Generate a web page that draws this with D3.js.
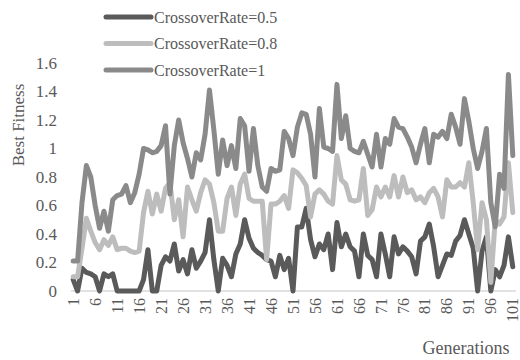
<!DOCTYPE html>
<html>
<head>
<meta charset="utf-8">
<script src="https://cdn.jsdelivr.net/npm/d3@7"></script>
<style>
  body { margin: 0; background: #fff; }
  svg text { font-family: "Liberation Serif", "Times New Roman", serif; fill: #595959; }
</style>
</head>
<body>
<svg id="chart" width="520" height="360"></svg>
<script>
// generations 1..101
const generations = d3.range(1, 102);
const seriesNames = ["CrossoverRate=0.5", "CrossoverRate=0.8", "CrossoverRate=1"];
const seriesColors = ["#5a5a5a", "#bdbdbd", "#8a8a8a"];
const yTicks = [0, 0.2, 0.4, 0.6, 0.8, 1, 1.2, 1.4, 1.6];
const xTickLabels = d3.range(1, 102, 5);

const rate05 = [
  0.08, 0.0, 0.16, 0.13, 0.12, 0.10, 0.0, 0.12, 0.10, 0.12,
  0.0, 0.0, 0.0, 0.0, 0.0, 0.0, 0.08, 0.29, 0.0, 0.0,
  0.18, 0.24, 0.21, 0.33, 0.14, 0.22, 0.12, 0.29, 0.16, 0.21,
  0.27, 0.50, 0.22, 0.0, 0.23, 0.18, 0.10, 0.26, 0.33, 0.50,
  0.37, 0.30, 0.27, 0.25, 0.22, 0.21, 0.10, 0.25, 0.15, 0.23,
  0.0, 0.45, 0.45, 0.58, 0.36, 0.24, 0.33, 0.29, 0.40, 0.15,
  0.48, 0.31, 0.40, 0.31, 0.28, 0.10, 0.40, 0.25, 0.22, 0.10,
  0.40, 0.26, 0.10, 0.38, 0.26, 0.31, 0.28, 0.24, 0.12, 0.35,
  0.38, 0.47, 0.31, 0.10, 0.18, 0.26, 0.25, 0.35, 0.39, 0.50,
  0.40, 0.30, 0.0, 0.28, 0.38, 0.0, 0.15, 0.10, 0.18, 0.38,
  0.17
];
const rate08 = [
  0.10, 0.10, 0.30, 0.51, 0.42, 0.34, 0.29, 0.36, 0.32, 0.38,
  0.29, 0.30, 0.30, 0.28, 0.27, 0.28, 0.55, 0.70, 0.54, 0.68,
  0.56, 0.72, 0.76, 0.50, 0.64, 0.38, 0.73, 0.64, 0.56, 0.69,
  0.78, 0.75, 0.62, 0.42, 0.42, 0.65, 0.73, 0.53, 0.75, 0.82,
  0.65, 0.63, 0.63, 0.63, 0.22, 0.61, 0.61, 0.63, 0.67, 0.58,
  0.85, 0.83, 0.79, 0.74, 0.52, 0.68, 0.71, 0.68, 0.63, 0.61,
  0.95, 0.78, 0.75, 0.64, 0.63, 0.64, 0.86, 0.53, 0.57, 0.73,
  0.66, 0.73, 0.66, 0.81, 0.66, 0.80, 0.69, 0.71, 0.64, 0.66,
  0.62, 0.69, 0.72, 0.66, 0.52, 0.78, 0.73, 0.73, 0.76, 0.73,
  0.90, 0.62, 0.29, 0.62, 0.50, 0.06, 0.50, 0.47, 0.52, 0.90,
  0.55
];
const rate10 = [
  0.21, 0.21, 0.62, 0.88, 0.80, 0.60, 0.44, 0.56, 0.42, 0.64,
  0.67, 0.68, 0.74, 0.62, 0.69, 0.82, 1.00, 0.99, 0.97, 0.98,
  1.02, 1.16, 0.68, 1.02, 1.20, 1.04, 0.93, 0.80, 0.97, 0.92,
  1.10, 1.41, 1.13, 0.82, 1.06, 0.88, 1.02, 0.86, 1.21, 1.16,
  0.84, 1.14, 0.88, 0.73, 0.70, 0.86, 0.84, 0.85, 1.12, 1.07,
  0.95, 1.15, 1.25, 1.24, 1.10, 0.80, 1.28, 1.01, 1.00, 0.98,
  1.45, 1.07, 1.23, 1.00, 0.98, 0.97, 1.05, 0.96, 0.87, 1.10,
  0.87, 1.07, 1.03, 1.21, 1.15, 1.14, 1.08, 1.01, 0.90, 1.03,
  1.14, 0.90, 1.10, 1.08, 1.12, 1.07, 1.24, 1.15, 1.03, 1.35,
  1.19, 1.00, 0.86, 0.98, 1.14, 0.62, 0.45, 0.82, 0.72, 1.52,
  0.95
];
const allSeries = [rate05, rate08, rate10];

const svg = d3.select("#chart");

const x = d3.scalePoint()
  .domain(generations)
  .range([71, 515])
  .padding(0.5);

const y = d3.scaleLinear()
  .domain([0, 1.6])
  .range([291, 63]);

// baseline at zero
svg.append("line")
  .attr("x1", 71).attr("x2", 516)
  .attr("y1", y(0)).attr("y2", y(0))
  .attr("stroke", "#d9d9d9")
  .attr("stroke-width", 1.5);

// y tick labels
svg.append("g").selectAll("text")
  .data(yTicks)
  .enter().append("text")
  .attr("x", 57)
  .attr("y", d => y(d))
  .attr("dy", "0.35em")
  .attr("text-anchor", "end")
  .attr("font-size", 17)
  .text(d => d);

// x tick labels, rotated
svg.append("g").selectAll("text")
  .data(xTickLabels)
  .enter().append("text")
  .attr("transform", d => `translate(${x(d)}, 298) rotate(-90)`)
  .attr("dy", "0.35em")
  .attr("text-anchor", "end")
  .attr("font-size", 16)
  .text(d => d);

// axis titles
svg.append("text")
  .attr("transform", "translate(18, 125) rotate(-90)")
  .attr("dy", "0.35em")
  .attr("text-anchor", "middle")
  .attr("font-size", 17)
  .text("Best Fitness");

svg.append("text")
  .attr("x", 466)
  .attr("y", 348)
  .attr("dy", "0.35em")
  .attr("text-anchor", "middle")
  .attr("font-size", 18)
  .text("Generations");

// lines
const line = d3.line()
  .x((d, i) => x(generations[i]))
  .y(d => y(d));

svg.append("g").selectAll("path")
  .data(allSeries)
  .enter().append("path")
  .attr("d", line)
  .attr("fill", "none")
  .attr("stroke", (d, i) => seriesColors[i])
  .attr("stroke-width", 5)
  .attr("stroke-linejoin", "round")
  .attr("stroke-linecap", "round");

// legend
const legend = svg.append("g").selectAll("g")
  .data(seriesNames)
  .enter().append("g")
  .attr("transform", (d, i) => `translate(0, ${17 + i * 26.5})`);

legend.append("line")
  .attr("x1", 106).attr("x2", 151)
  .attr("stroke", (d, i) => seriesColors[i])
  .attr("stroke-width", 5)
  .attr("stroke-linecap", "round");

legend.append("text")
  .attr("x", 154)
  .attr("dy", "0.35em")
  .attr("font-size", 16)
  .text(d => d);
</script>
</body>
</html>
